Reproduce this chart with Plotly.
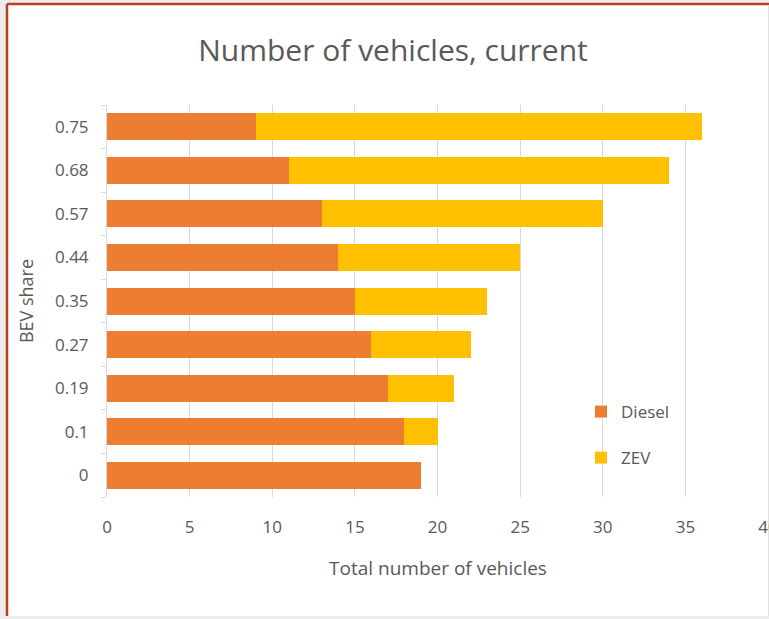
import plotly.graph_objects as go

# BEV share scenarios (bottom to top) and vehicle counts per drivetrain
bev_share = ["0", "0.1", "0.19", "0.27", "0.35", "0.44", "0.57", "0.68", "0.75"]
diesel = [19, 18, 17, 16, 15, 14, 13, 11, 9]
zev = [0, 2, 4, 6, 8, 11, 17, 23, 27]

DIESEL_COLOR = "#ED7D31"
ZEV_COLOR = "#FFC000"
TEXT_COLOR = "#595959"
FONT = "Open Sans, Lato, sans-serif"

fig = go.Figure()
fig.add_trace(go.Bar(
    y=bev_share, x=diesel, name="Diesel", orientation="h",
    marker=dict(color=DIESEL_COLOR, line=dict(width=0)),
    legend="legend",
))
fig.add_trace(go.Bar(
    y=bev_share, x=zev, name="ZEV", orientation="h",
    marker=dict(color=ZEV_COLOR, line=dict(width=0)),
    legend="legend2",
))

# plot-area geometry (pixels) used to place the frame in paper coordinates
W, H = 769, 619
L, R, T, B = 107, 0, 105, 122
pw, ph = W - L - R, H - T - B

def px_x(p):
    return (p - L) / pw

def px_y(p):
    return (H - B - p) / ph

RED = "#B7411F"

legend_style = dict(
    x=px_x(581), xanchor="left", yanchor="middle",
    bgcolor="rgba(0,0,0,0)",
    font=dict(size=17, color=TEXT_COLOR),
    itemwidth=30,
)

fig.update_layout(
    width=W, height=H,
    margin=dict(l=L, r=R, t=T, b=B, autoexpand=False),
    paper_bgcolor="#ECECEC",
    plot_bgcolor="rgba(0,0,0,0)",
    barmode="stack",
    bargap=0.38,
    font=dict(family=FONT, color=TEXT_COLOR),
    title=dict(
        text="Number of vehicles, current",
        x=px_x(393), xref="paper", xanchor="center",
        y=1 - 50 / H, yref="container", yanchor="middle",
        font=dict(size=30, color=TEXT_COLOR, family=FONT),
    ),
    xaxis=dict(
        range=[0, 40.06], dtick=5, tick0=0,
        showgrid=True, gridcolor="#D9D9D9", gridwidth=1,
        zeroline=False, showline=False,
        tickfont=dict(size=17, color=TEXT_COLOR),
        ticks="", ticklabelstandoff=18,
        ticklabeloverflow="allow",
        title=dict(text="Total number of vehicles", standoff=24,
                   font=dict(size=19, color=TEXT_COLOR)),
    ),
    yaxis=dict(
        type="category", categoryorder="array", categoryarray=bev_share,
        showgrid=False, zeroline=False,
        showline=True, linecolor="#D9D9D9", linewidth=1,
        ticks="outside", tickson="boundaries", ticklen=5, tickcolor="#D9D9D9",
        tickfont=dict(size=17, color=TEXT_COLOR),
        ticklabelstandoff=14,
        title=dict(text="BEV share", standoff=16,
                   font=dict(size=18, color=TEXT_COLOR)),
    ),
    legend=dict(y=px_y(412), **legend_style),
    legend2=dict(y=px_y(458), **legend_style),
    showlegend=True,
    shapes=[
        # white chart frame
        dict(
            type="rect", xref="paper", yref="paper", layer="below",
            x0=px_x(7), x1=px_x(768), y0=px_y(616), y1=px_y(4),
            fillcolor="white", line=dict(width=0),
        ),
        # red edges on the left and top of the frame
        dict(
            type="line", xref="paper", yref="paper", layer="below",
            x0=px_x(7), x1=px_x(7), y0=px_y(616), y1=px_y(4),
            line=dict(color=RED, width=2.5),
        ),
        dict(
            type="line", xref="paper", yref="paper", layer="below",
            x0=px_x(7), x1=px_x(769), y0=px_y(4), y1=px_y(4),
            line=dict(color=RED, width=2.5),
        ),
        # thin grey edge on the right
        dict(
            type="line", xref="paper", yref="paper", layer="below",
            x0=px_x(768.5), x1=px_x(768.5), y0=px_y(616), y1=px_y(5),
            line=dict(color="#E0E0E0", width=1),
        ),
    ],
)

fig.write_html("out.html")
